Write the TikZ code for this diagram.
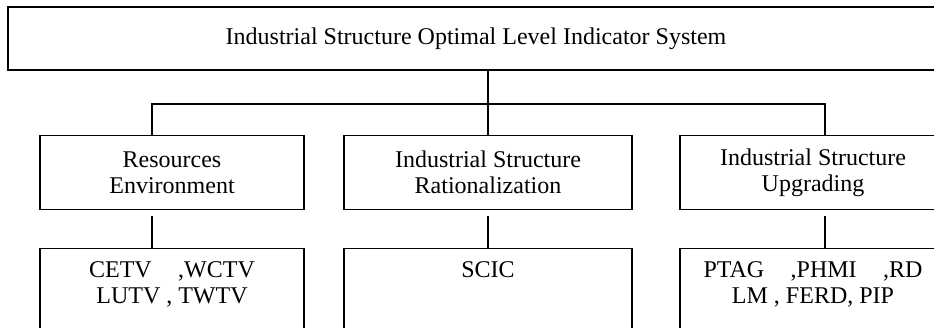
\documentclass[tikz,border=0pt]{standalone}
\usepackage{fontspec}
\setmainfont{Liberation Serif}
\begin{document}
\begin{tikzpicture}[x=1pt,y=-1pt,line width=1.3pt,
  box/.style={draw,rectangle,inner sep=0pt,align=center,font=\fontsize{24}{26}\selectfont},
  txt/.style={inner sep=0pt,align=center,font=\fontsize{24}{26}\selectfont}]
\useasboundingbox (0,0) rectangle (934,327);
\clip (0,0) rectangle (934,327);
% top box
\node[box,minimum width=936,minimum height=63] (top) at (476,38.5) {Industrial Structure Optimal Level Indicator System};
% middle row
\node[box,minimum width=264,minimum height=74] (mL) at (172,172.5) {Resources\\Environment};
\node[box,minimum width=288,minimum height=74] (mM) at (488,172.5) {Industrial Structure\\Rationalization};
\node[box,minimum width=266,minimum height=74] (mR) at (813,172.5) {Industrial Structure\\Upgrading};
% bottom row
\node[box,minimum width=264,minimum height=120,anchor=north] (bL) at (172,248) {};
\node[box,minimum width=288,minimum height=120,anchor=north] (bM) at (488,248) {};
\node[box,minimum width=266,minimum height=120,anchor=north] (bR) at (813,248) {};
\node[txt,anchor=north] (tL) at ([yshift=-13pt]bL.north) {CETV\hspace{1.1em},WCTV\\LUTV , TWTV};
\node[txt,anchor=north] (tM) at ([yshift=-13pt]bM.north) {SCIC};
\node[txt,anchor=north] (tR) at ([yshift=-13pt]bR.north) {PTAG\hspace{1.1em},PHMI\hspace{1.1em},RD\\LM , FERD, PIP};
% connectors
\coordinate (j) at (488,104);
\coordinate (cL) at (152,104);
\coordinate (cR) at (825,104);
\draw (j |- top.south) -- (j |- mM.north);
\draw (cL |- mL.north) -- (cL) -- (cR) -- (cR |- mR.north);
\draw ([yshift=-6pt]cL |- mL.south) -- (cL |- bL.north);
\draw ([yshift=-6pt]j |- mM.south) -- (j |- bM.north);
\draw ([yshift=-6pt]cR |- mR.south) -- (cR |- bR.north);
\end{tikzpicture}
\end{document}
